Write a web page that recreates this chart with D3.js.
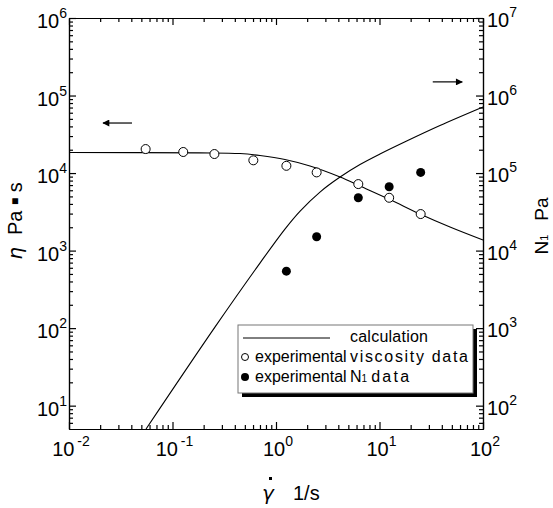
<!DOCTYPE html>
<html>
<head>
<meta charset="utf-8">
<script src="https://cdn.jsdelivr.net/npm/d3@7"></script>
<style>
  body { margin: 0; background: #fff; }
  text { font-family: "Liberation Sans", Arial, sans-serif; fill: #000; }
</style>
</head>
<body>
<svg id="chart" width="553" height="508"></svg>
<script>
// experimental data
var viscRates = [0.055, 0.127, 0.254, 0.604, 1.26, 2.47, 6.24, 12.4, 25];
var viscValues = [20400, 18700, 17600, 14600, 12400, 10200, 7210, 4800, 2960];
var n1Rates = [1.26, 2.47, 6.24, 12.4, 25];
var n1Values = [5430, 15100, 48000, 66500, 102000];

// calculated curves
var calcViscRates = [0.01, 0.184, 0.449, 0.70, 1.22, 2.13, 4.16, 6.48, 12.6, 24.6, 48, 100];
var calcViscValues = [18390, 18220, 17850, 16820, 14940, 12310, 8880, 6800, 4550, 2958, 2010, 1366];
var calcN1Rates = [0.0555, 0.257, 0.70, 1.22, 1.71, 2.66, 4.16, 6.48, 10.1, 18.3, 38.4, 100];
var calcN1Values = [50, 1030, 6900, 18940, 32330, 56860, 88800, 128700, 175900, 258800, 410100, 710500];

// tick decades
var xDecades = [-2, -1, 0, 1, 2];
var yLeftDecades = [1, 2, 3, 4, 5, 6];
var yRightDecades = [2, 3, 4, 5, 6, 7];

var W = 553, H = 508;
var margin = {top: 18, right: 70, bottom: 79, left: 69};
var svg = d3.select('#chart');

var x = d3.scaleLog().domain([0.01, 100]).range([margin.left, W - margin.right]);
var yL = d3.scaleLog().domain([5, 1e6]).range([H - margin.bottom, margin.top]);
var yR = d3.scaleLog().domain([50, 1e7]).range([H - margin.bottom, margin.top]);

function minors(scale) {
    var d = scale.domain(), out = [];
    var lo = Math.floor(Math.log10(d[0])), hi = Math.ceil(Math.log10(d[1]));
    for (var e = lo; e < hi; e++) {
        for (var m = 2; m <= 9; m++) {
            var v = m * Math.pow(10, e);
            if (v > d[0] && v < d[1]) out.push(v);
        }
    }
    return out;
}
function majors(decades) { return decades.map(function (e) { return Math.pow(10, e); }); }

function drawAxis(axisFn, scale, decades, transform) {
    var gMin = svg.append('g').attr('transform', transform)
        .call(axisFn(scale).tickValues(minors(scale)).tickSizeInner(-4).tickSizeOuter(0).tickFormat(''));
    var gMaj = svg.append('g').attr('transform', transform)
        .call(axisFn(scale).tickValues(majors(decades)).tickSizeInner(-7).tickSizeOuter(0).tickFormat(''));
    [gMin, gMaj].forEach(function (g) {
        g.selectAll('path,line').attr('stroke', '#000').attr('stroke-width', 1.2);
    });
}

drawAxis(d3.axisBottom, x, xDecades, 'translate(0,' + (H - margin.bottom) + ')');
drawAxis(d3.axisTop, x, xDecades, 'translate(0,' + margin.top + ')');
drawAxis(d3.axisLeft, yL, yLeftDecades, 'translate(' + margin.left + ',0)');
drawAxis(d3.axisRight, yR, yRightDecades, 'translate(' + (W - margin.right) + ',0)');

// power-of-ten labels
function powLabel(sel, exp) {
    sel.append('tspan').style('font-size', '20px').text('10');
    sel.append('tspan').style('font-size', '14px').attr('dy', -10).text(String(exp).replace('-', '\u2009-'));
}
xDecades.forEach(function (e) {
    var t = svg.append('text').attr('x', x(Math.pow(10, e)) + 2).attr('y', H - margin.bottom + 27)
        .attr('text-anchor', 'middle');
    powLabel(t, e);
});
yLeftDecades.forEach(function (e) {
    var t = svg.append('text').attr('x', margin.left - 2).attr('y', yL(Math.pow(10, e)) + 10)
        .attr('text-anchor', 'end');
    powLabel(t, e);
});
yRightDecades.forEach(function (e) {
    var t = svg.append('text').attr('x', W - margin.right + 4).attr('y', yR(Math.pow(10, e)) + 9);
    powLabel(t, e);
});

// axis titles
svg.append('text').attr('x', 262).attr('y', 500).style('font-size', '20px')
    .style('font-style', 'italic').style('font-family', '"DejaVu Sans"').text('\u03b3');
svg.append('text').attr('x', 293).attr('y', 500).style('font-size', '20px').text('1/s');
svg.append('rect').attr('x', 269).attr('y', 477).attr('width', 3).attr('height', 3).attr('fill', '#000');

var lt = svg.append('text').attr('transform', 'translate(22,221) rotate(-90)')
    .attr('text-anchor', 'middle').style('font-size', '20px');
lt.append('tspan').style('font-style', 'italic').style('font-family', '"DejaVu Sans"').text('\u03b7');
lt.append('tspan').attr('dx', 12).text('Pa ');
lt.append('tspan').style('font-size', '12px').attr('dy', -3).text('\u25a0');
lt.append('tspan').attr('dy', 3).text(' s');

var rt = svg.append('text').attr('transform', 'translate(548,226) rotate(-90)')
    .attr('text-anchor', 'middle').style('font-size', '19px');
rt.append('tspan').text('N');
rt.append('tspan').style('font-size', '11px').text('1');
rt.append('tspan').attr('dx', 14).text('Pa');

// calculated curves
var plot = svg.append('g');
var viscLine = d3.line().x(function (d) { return x(d[0]); }).y(function (d) { return yL(d[1]); }).curve(d3.curveCatmullRom.alpha(0.5));
var n1Line = d3.line().x(function (d) { return x(d[0]); }).y(function (d) { return yR(d[1]); }).curve(d3.curveCatmullRom.alpha(0.5));
plot.append('path').datum(d3.zip(calcViscRates, calcViscValues)).attr('d', viscLine)
    .attr('fill', 'none').attr('stroke', '#000').attr('stroke-width', 1.1);
plot.append('path').datum(d3.zip(calcN1Rates, calcN1Values)).attr('d', n1Line)
    .attr('fill', 'none').attr('stroke', '#000').attr('stroke-width', 1.1);

// experimental points
plot.selectAll('.visc').data(d3.zip(viscRates, viscValues)).enter().append('circle')
    .attr('class', 'visc')
    .attr('cx', function (d) { return x(d[0]); })
    .attr('cy', function (d) { return yL(d[1]); })
    .attr('r', 4.5).attr('fill', '#fff').attr('stroke', '#000').attr('stroke-width', 1);
plot.selectAll('.n1').data(d3.zip(n1Rates, n1Values)).enter().append('circle')
    .attr('class', 'n1')
    .attr('cx', function (d) { return x(d[0]); })
    .attr('cy', function (d) { return yR(d[1]); })
    .attr('r', 4.5).attr('fill', '#000');

// axis arrows
svg.append('defs').append('marker').attr('id', 'head').attr('viewBox', '0 0 10 10')
    .attr('refX', 9).attr('refY', 5).attr('markerWidth', 9).attr('markerHeight', 7)
    .attr('markerUnits', 'userSpaceOnUse').attr('orient', 'auto')
    .append('path').attr('d', 'M0,0L10,5L0,10z').attr('fill', '#000');
svg.append('line').attr('x1', x(0.0406)).attr('x2', x(0.0213)).attr('y1', yL(44200)).attr('y2', yL(44200))
    .attr('stroke', '#000').attr('stroke-width', 1.2).attr('marker-end', 'url(#head)');
svg.append('line').attr('x1', x(32.7)).attr('x2', x(63)).attr('y1', yR(1.5e6)).attr('y2', yR(1.5e6))
    .attr('stroke', '#000').attr('stroke-width', 1.2).attr('marker-end', 'url(#head)');

// legend
var lg = svg.append('g').attr('transform', 'translate(238,325)');
lg.append('rect').attr('x', 4).attr('y', 4).attr('width', 235).attr('height', 68).attr('fill', '#000');
lg.append('rect').attr('x', 0).attr('y', 0).attr('width', 235).attr('height', 68)
    .attr('fill', '#fff').attr('stroke', '#777').attr('stroke-width', 1);
lg.append('line').attr('x1', 5).attr('x2', 92).attr('y1', 13).attr('y2', 13).attr('stroke', '#000');
lg.append('text').attr('x', 112).attr('y', 17).style('font-size', '16px')
    .attr('textLength', 78).attr('lengthAdjust', 'spacing').text('calculation');
lg.append('circle').attr('cx', 7).attr('cy', 32).attr('r', 3.5).attr('fill', '#fff').attr('stroke', '#000');
var l2 = lg.append('text').attr('y', 37).style('font-size', '16px');
l2.append('tspan').attr('x', 17).text('experimental');
l2.append('tspan').attr('x', 112).attr('textLength', 118).attr('lengthAdjust', 'spacing').text('viscosity data');
lg.append('circle').attr('cx', 7).attr('cy', 52).attr('r', 4).attr('fill', '#000');
var l3 = lg.append('text').attr('y', 57).style('font-size', '16px');
l3.append('tspan').attr('x', 17).text('experimental');
l3.append('tspan').attr('x', 112).text('N');
l3.append('tspan').style('font-size', '10px').text('1');
l3.append('tspan').attr('dx', 4).attr('textLength', 38).attr('lengthAdjust', 'spacing').text('data');
</script>
</body>
</html>
